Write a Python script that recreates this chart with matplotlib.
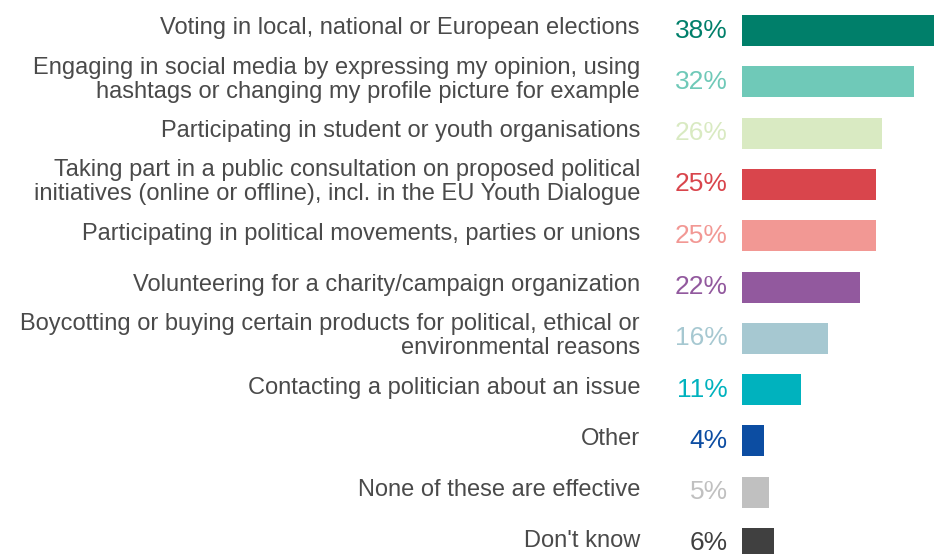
import matplotlib.pyplot as plt

plt.rcParams['font.family'] = ['Liberation Sans', 'DejaVu Sans']

# Данные
labels = [
    "Voting in local, national or European elections",
    "Engaging in social media by expressing my opinion, using\nhashtags or changing my profile picture for example",
    "Participating in student or youth organisations",
    "Taking part in a public consultation on proposed political\ninitiatives (online or offline), incl. in the EU Youth Dialogue",
    "Participating in political movements, parties or unions",
    "Volunteering for a charity/campaign organization",
    "Boycotting or buying certain products for political, ethical or\nenvironmental reasons",
    "Contacting a politician about an issue",
    "Other",
    "None of these are effective",
    "Don't know",
]
values = [38, 32, 26, 25, 25, 22, 16, 11, 4, 5, 6]
colors = ["#007f6a", "#6fc9b8", "#d9eac2", "#d9454c", "#f29894", "#92599e",
          "#a6c8d1", "#00b2be", "#0c4da2", "#c0c0c0", "#404040"]

W, H = 934, 554
px_per_pct = 5.36
bar_left = 742.3
row0 = 30.5
row_step = 51.3

fig = plt.figure(figsize=(W / 100, H / 100), dpi=100)
ax = fig.add_axes([bar_left / W, 0, 38 * px_per_pct / W, 1])

pos = list(range(len(values)))
ax.barh(pos, values, height=31 / row_step, color=colors)
ax.set_xlim(0, 38)
ax.set_ylim((H - row0) / row_step, -row0 / row_step)
ax.axis('off')

label_x = (640 - bar_left) / px_per_pct
pct_x = (728 - bar_left) / px_per_pct
for i, (lab, v, c) in enumerate(zip(labels, values, colors)):
    ax.text(label_x, i - 0.04, lab, ha='right', va='center', fontsize=17,
            color='#4a4a4a', linespacing=1.1)
    ax.text(pct_x, i, f"{v}%", ha='right', va='center', fontsize=19, color=c)

fig.savefig("out.png", dpi=100)
